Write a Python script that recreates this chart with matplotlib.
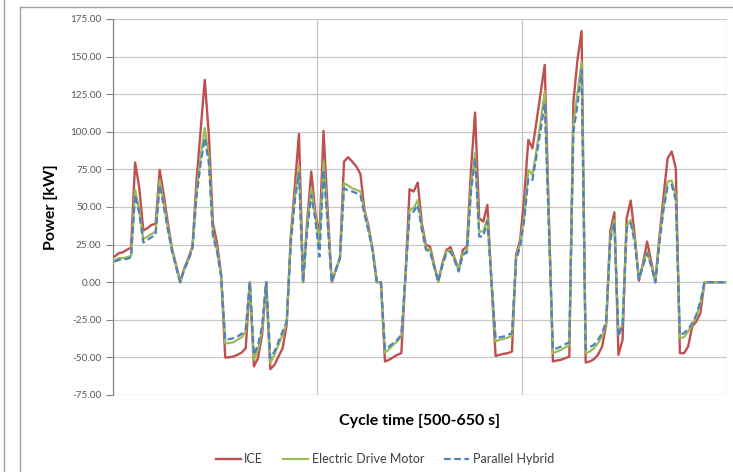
import matplotlib
matplotlib.use('Agg')
import matplotlib.pyplot as plt
from matplotlib.lines import Line2D
import numpy as np

plt.rcParams['font.family'] = ['Lato', 'DejaVu Sans']

# one value per second, 500-650 s
ice = [17.1, 19.3, 19.9, 21.5, 23.0, 79.6, 63, 34.3, 35.9, 38.1,
       38.8, 74.7, 58, 39, 22.6, 11.5, 0, 9.3, 16, 23.7,
       68, 101, 134.5, 98, 39.2, 25.9, 5, -50.1, -49.9, -49.4,
       -48.3, -46.8, -43.9, 0, -56, -50.5, -35, 0, -57.8, -55,
       -49.4, -43.9, -28.4, 30.4, 64, 98.6, 0, 40, 73.6, 45.9,
       31, 100.6, 48, 0, 8.2, 16, 80.2, 83.1, 80.2, 76.9,
       72, 48, 37, 21.5, 0, 0, -52.7, -51.6, -49.9, -48.3,
       -47.2, 5, 61.8, 60.3, 66.3, 39.2, 24.8, 23.7, 11.5, 0.4,
       12.6, 21.5, 23.3, 16, 8.2, 21.5, 23.7, 74.7, 112.8, 42.5,
       40.3, 51.4, 0, -49, -48.3, -47.6, -47.2, -46.1, 18.2, 28,
       57, 94.6, 89, 107, 126, 144.5, 46, -52.7, -52, -51.6,
       -50.5, -49.5, 120, 148, 167, -53.4, -52.7, -51.2, -48.3, -42.8,
       -28.4, 33.7, 46.5, -48.3, -38.3, 42.5, 54.3, 30.4, 1, 12.6,
       27, 13.7, 0, 30.4, 57, 82.4, 86.9, 75.8, -47.2, -47.2,
       -42.8, -29.5, -26.1, -20.6, 0, 0, 0, 0, 0, 0]

edm = [14.4, 16, 16, 16.6, 17.5, 61.4, 48, 28.6, 30.4, 32.1,
       33.7, 68, 52.5, 35.9, 21.5, 10.4, 0, 8.6, 14.8, 23.3,
       60.3, 83.5, 102.4, 83.5, 32.6, 21.5, 4, -40.5, -40.5, -39.9,
       -38.3, -36.6, -32.8, 0, -51.6, -45, -31.7, 0, -53.8, -48.3,
       -41.7, -35, -27.3, 28.1, 57, 76.9, 0, 37, 62.5, 43.7,
       25.9, 80.2, 41.4, 0, 8.2, 16, 65.8, 64.3, 62.5, 61.4,
       60.3, 47, 34.8, 21.5, 0, 0, -46.8, -44.5, -41.7, -39.4,
       -35.7, 4, 48, 49.2, 54.7, 37, 22.6, 21.5, 10.4, 0.4,
       11.5, 20.4, 21.5, 15.3, 7.8, 19.3, 21, 63.6, 85.8, 33.7,
       33.7, 42.5, 1, -39.4, -38.3, -37.7, -36.8, -35.7, 16, 25.9,
       43.7, 74.7, 71.4, 88, 107, 126.8, 40, -47.2, -46.1, -45,
       -43.4, -42, 105, 126, 146.6, -47.2, -46.1, -43.9, -40.5, -36.1,
       -27.3, 30.4, 41.4, -35, -27.3, 37, 41.4, 28.1, 2, 11.5,
       20.4, 11.5, 0, 28.1, 50.3, 66.9, 67.6, 57, -37.2, -36.6,
       -32.8, -28.4, -22.8, -14, 0, 0, 0, 0, 0, 0]

hybrid = [13.7, 14.8, 15.3, 15.5, 16.6, 58, 45.9, 26.4, 28.1, 29.9,
          31.5, 64.7, 50.3, 34.8, 20.4, 10, 0, 8.6, 14.4, 22.6,
          57, 79.1, 95.7, 79.1, 30.4, 20.4, 4, -38.3, -37.9, -37.2,
          -36.1, -34.3, -31.2, 0, -48.3, -41.7, -29.5, 0, -50.5, -46.1,
          -39.4, -32.8, -26.1, 25.9, 54.7, 72.5, 0, 34.8, 58, 41.4,
          17, 74.7, 39.2, 0, 8.2, 16, 62.5, 60.9, 60.3, 59.2,
          58.1, 44.8, 33.7, 20.4, 0, 0, -44.5, -42.8, -40.5, -38.3,
          -35, 4, 45.9, 47, 51.4, 34.8, 21.5, 20.4, 10.4, 0.4,
          10.9, 19.3, 20.4, 14.4, 7.1, 18.2, 19.7, 60.3, 82.4, 30.4,
          30.4, 40.3, 1, -37.2, -36.6, -36.1, -35, -33.9, 14.8, 23.7,
          41.4, 69.1, 68, 84, 101, 119, 37, -44.5, -43.9, -42.8,
          -41.2, -40, 100, 118, 141, -44.5, -43.2, -41.7, -38.3, -33.9,
          -26.1, 28.1, 39.2, -36.1, -28.4, 35.9, 39.2, 25.9, 2, 10.9,
          19.3, 10.9, 0, 25.9, 48, 63.6, 64.7, 54.7, -35, -33.9,
          -31.2, -27.3, -21.7, -12.9, 0, 0, 0, 0, 0, 0]

series_names = ['ICE', 'Electric Drive Motor', 'Parallel Hybrid']
y_ticks = [-75, -50, -25, 0, 25, 50, 75, 100, 125, 150, 175]
x_grid = [500, 550, 600, 650]

time = np.arange(500, 650) + 0.5

W, H = 733, 472
fig = plt.figure(figsize=(W / 100, H / 100), dpi=100)
ax = fig.add_axes([112.6 / W, 1 - 395 / H, (727 - 112.6) / W, (395 - 19) / H])

ax.plot(time, ice, color='#C0504D', lw=1.7, label=series_names[0], zorder=3)
ax.plot(time, edm, color='#9BBB59', lw=1.6, label=series_names[1], zorder=4)
ax.plot(time, hybrid, color='#4F81BD', lw=1.6, ls=(0, (3, 1.6)),
        label=series_names[2], zorder=5)

ax.set_xlim(500, 650)
ax.set_ylim(-75, 175)
ax.set_yticks(y_ticks)
ax.set_yticklabels(['%.2f' % v for v in y_ticks])
ax.set_xticks(x_grid)
ax.set_xticklabels([])
ax.tick_params(axis='x', length=0)
ax.tick_params(axis='y', length=5, width=0.8, color='#868686',
               labelsize=7.2, labelcolor='#595959', pad=3)
ax.grid(True, color='#c8c8c8', lw=0.9)
ax.set_axisbelow(True)
for s in ['top', 'right', 'bottom']:
    ax.spines[s].set_visible(False)
ax.spines['left'].set_color('#868686')
ax.spines['left'].set_linewidth(0.9)

ax.set_ylabel('Power [kW]', fontsize=11.5, fontweight='bold', labelpad=9)
ax.set_xlabel('Cycle time [500-650 s]', fontsize=11.5, fontweight='bold',
              labelpad=10)

fig.legend(loc='center', bbox_to_anchor=(385 / W, 1 - 459 / H), ncol=3,
           frameon=False, fontsize=9, handlelength=2.0, handletextpad=0.3,
           columnspacing=1.6, labelcolor='#404040')

# chart frame borders
border = '#a0a0a0'
fig.add_artist(Line2D([4 / W, 4 / W], [0, 1], transform=fig.transFigure,
                      color=border, lw=1))
fig.add_artist(Line2D([20 / W, 20 / W], [0, 1 - 7 / H],
                      transform=fig.transFigure, color=border, lw=1))
fig.add_artist(Line2D([20 / W, 1], [1 - 7 / H, 1 - 7 / H],
                      transform=fig.transFigure, color=border, lw=1))

fig.savefig('out.png', dpi=100)
